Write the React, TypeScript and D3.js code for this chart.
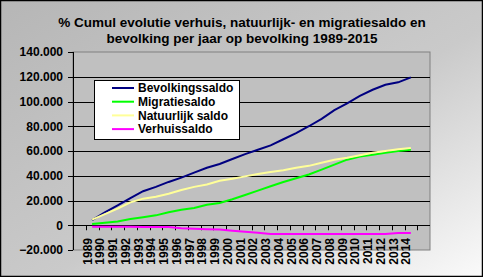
import React from "react";
import * as d3 from "d3";

const years = ["1989","1990","1991","1992","1993","1994","1995","1996","1997","1998","1999","2000","2001","2002","2003","2004","2005","2006","2007","2008","2009","2010","2011","2012","2013","2014"];
const bevolkingssaldo = [4200,10500,16000,22000,27500,31000,35000,38500,42500,46500,49500,53500,57500,61000,64500,69500,74500,80000,86000,93000,98500,104500,109500,113500,115500,119500];
const migratiesaldo = [1000,2000,3000,5000,6500,8000,10500,12500,14000,16500,18000,21000,24500,28000,31500,35000,38000,41000,45000,49000,53000,55500,57000,58500,60000,61000];
const natuurlijkSaldo = [4500,9000,13500,18500,21500,23000,25500,28500,31000,33000,36000,37500,39500,41500,43000,44500,46500,48000,50500,53000,54500,56500,58500,60000,61500,62500];
const verhuissaldo = [-1200,-1200,-1300,-1300,-1400,-1400,-1500,-2500,-2800,-3200,-3500,-4500,-5300,-6000,-7000,-7000,-7000,-7000,-7000,-7000,-7000,-7000,-7000,-7000,-6200,-6200];
const yTicks = [-20000,0,20000,40000,60000,80000,100000,120000,140000];
const titleLines = ["% Cumul evolutie verhuis, natuurlijk- en migratiesaldo en","bevolking per jaar op bevolking 1989-2015"];

const series = [
  { name: "Bevolkingssaldo", values: bevolkingssaldo, color: "#000080" },
  { name: "Migratiesaldo", values: migratiesaldo, color: "#00ff00" },
  { name: "Natuurlijk saldo", values: natuurlijkSaldo, color: "#ffff99" },
  { name: "Verhuissaldo", values: verhuissaldo, color: "#ff00ff" },
];

const W = 483, H = 277;
const L = 73, R = 430, T = 52, B = 250;
const font = "'Liberation Sans', Arial, sans-serif";

export default function App() {
  const x = d3.scaleLinear().domain([-1.5, years.length + 0.5]).range([L, R]);
  const y = d3.scaleLinear().domain([-20000, 140000]).range([B, T]);
  const fmt = (v: number) => (v === 0 ? "0" : d3.format(",")(v).replace(/,/g, "."));
  const line = d3.line<number>().x((_, i) => x(i)).y((d) => y(d));
  const boundaries = d3.range(-1, years.length + 1).map((k) => k - 0.5);
  return (
    <div>
      <style>{`body{margin:0}`}</style>
      <svg width={W} height={H} style={{ display: "block" }}>
        <defs>
          <linearGradient id="bg" x1="0" y1="0" x2="1" y2="1">
            <stop offset="0" stopColor="#b6b6b6" />
            <stop offset="0.55" stopColor="#cacaca" />
            <stop offset="1" stopColor="#fafafa" />
          </linearGradient>
        </defs>
        <rect x={0.5} y={0.5} width={W - 1} height={H - 1} fill="url(#bg)" stroke="#000" strokeWidth={1.5} />
        {titleLines.map((t, i) => (
          <text key={i} x={242} y={26.5 + i * 16} textAnchor="middle" fontFamily={font} fontWeight="bold" fontSize={13.5} fill="#000">{t}</text>
        ))}
        <rect x={L} y={T} width={R - L} height={B - T} fill="#c0c0c0" stroke="#808080" strokeWidth={1} />
        {yTicks.filter((v) => v > 0 && v < 140000).map((v) => (
          <line key={v} x1={L} x2={R} y1={Math.round(y(v)) + 0.5} y2={Math.round(y(v)) + 0.5} stroke="#000" strokeWidth={1} />
        ))}
        <line x1={L + 0.5} x2={L + 0.5} y1={T} y2={B} stroke="#000" />
        {yTicks.map((v) => (
          <g key={v}>
            <line x1={L - 5} x2={L} y1={Math.round(y(v)) + 0.5} y2={Math.round(y(v)) + 0.5} stroke="#000" />
            <text x={63} y={y(v) + 4.3} textAnchor="end" fontFamily={font} fontWeight="bold" fontSize={12}>{fmt(v)}</text>
          </g>
        ))}
        <line x1={L} x2={R} y1={Math.round(y(0)) + 0.5} y2={Math.round(y(0)) + 0.5} stroke="#000" />
        {boundaries.map((b) => (
          <line key={b} x1={Math.round(x(b)) + 0.5} x2={Math.round(x(b)) + 0.5} y1={y(0)} y2={y(0) + 5} stroke="#000" />
        ))}
        {series.map((s) => (
          <path key={s.name} d={line(s.values) || ""} fill="none" stroke={s.color} strokeWidth={2} />
        ))}
        {years.map((yr, i) => (
          <text key={yr} transform={`translate(${x(i) - 0.5},238) rotate(-90)`} textAnchor="end" fontFamily={font} fontWeight="bold" fontSize={12}>{yr}</text>
        ))}
        <rect x={94.5} y={80.5} width={145} height={59} fill="#fff" stroke="#000" />
        {series.map((s, i) => (
          <g key={s.name}>
            <line x1={112} x2={134} y1={88 + i * 13.7} y2={88 + i * 13.7} stroke={s.color} strokeWidth={2} />
            <text x={138} y={92.3 + i * 13.7} fontFamily={font} fontWeight="bold" fontSize={12}>{s.name}</text>
          </g>
        ))}
      </svg>
    </div>
  );
}
